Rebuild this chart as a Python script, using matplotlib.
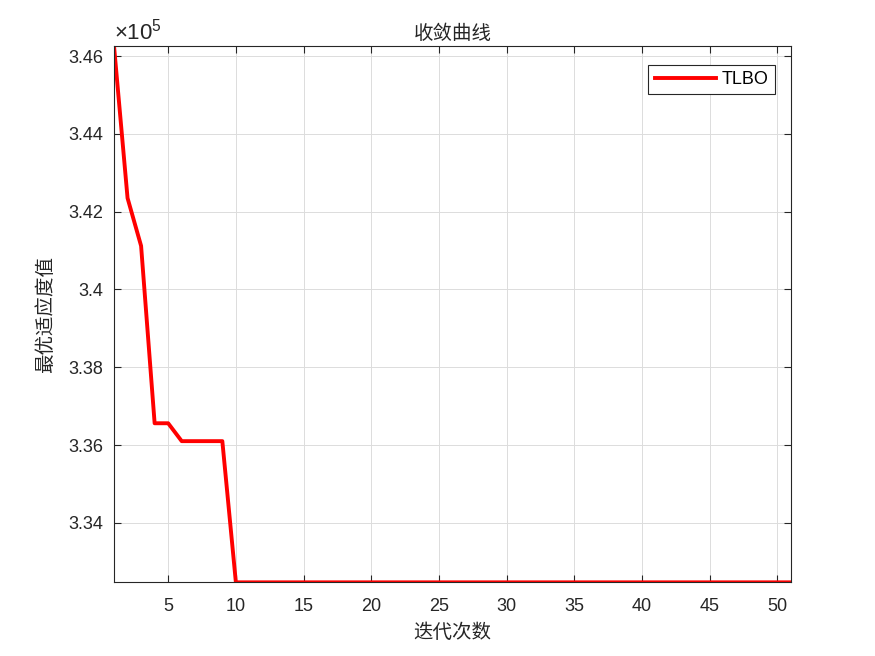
import matplotlib.pyplot as plt
from matplotlib.ticker import FuncFormatter

plt.rcParams['font.family'] = ['Liberation Sans', 'Noto Sans CJK SC', 'DejaVu Sans']
plt.rcParams['mathtext.fontset'] = 'custom'
plt.rcParams['mathtext.rm'] = 'Liberation Sans'

iterations = list(range(1, 52))
fitness = [346260, 342350, 341120, 336560, 336560, 336100, 336100, 336100, 336100] + [332470] * 42

fig = plt.figure(figsize=(8.75, 6.56), dpi=100)
ax = fig.add_axes([0.1303, 0.1123, 0.7737, 0.8176])

ax.plot(iterations, fitness, color='red', linewidth=2.8, label='TLBO')
ax.set_xlim(1, 51)
ax.set_ylim(min(fitness), max(fitness))
ax.set_xticks(range(5, 51, 5))
ax.set_yticks([334000, 336000, 338000, 340000, 342000, 344000, 346000])
ax.yaxis.set_major_formatter(FuncFormatter(lambda v, p: f"{v / 1e5:g}"))

ax.grid(True, color='#dcdcdc', linewidth=0.7)
ax.tick_params(direction='in', top=True, right=True, labelsize=13, colors='#262626', length=5)
ax.tick_params(axis='x', pad=11)
ax.tick_params(axis='y', pad=7.5)
for s in ax.spines.values():
    s.set_color('#262626')
    s.set_linewidth(0.8)

cjk = ['Noto Sans CJK SC', 'DejaVu Sans']
ax.set_title('收敛曲线', family=cjk, fontsize=14, color='#262626', pad=5)
ax.set_xlabel('迭代次数', family=cjk, fontsize=14, color='#262626', labelpad=5)
ax.set_ylabel('最优适应度值', family=cjk, fontsize=14, color='#262626', labelpad=9)
ax.text(0, 1.002, r'$\times10^{5}$', transform=ax.transAxes, fontsize=16,
        color='#262626', ha='left', va='bottom')

leg = ax.legend(loc='upper right', bbox_to_anchor=(0.976, 0.965), fontsize=13,
                fancybox=False, framealpha=1, edgecolor='#262626',
                handlelength=3.4, handletextpad=0.3, borderaxespad=0, borderpad=0.35)
leg.get_frame().set_linewidth(0.8)

fig.savefig('out.png', dpi=100)
